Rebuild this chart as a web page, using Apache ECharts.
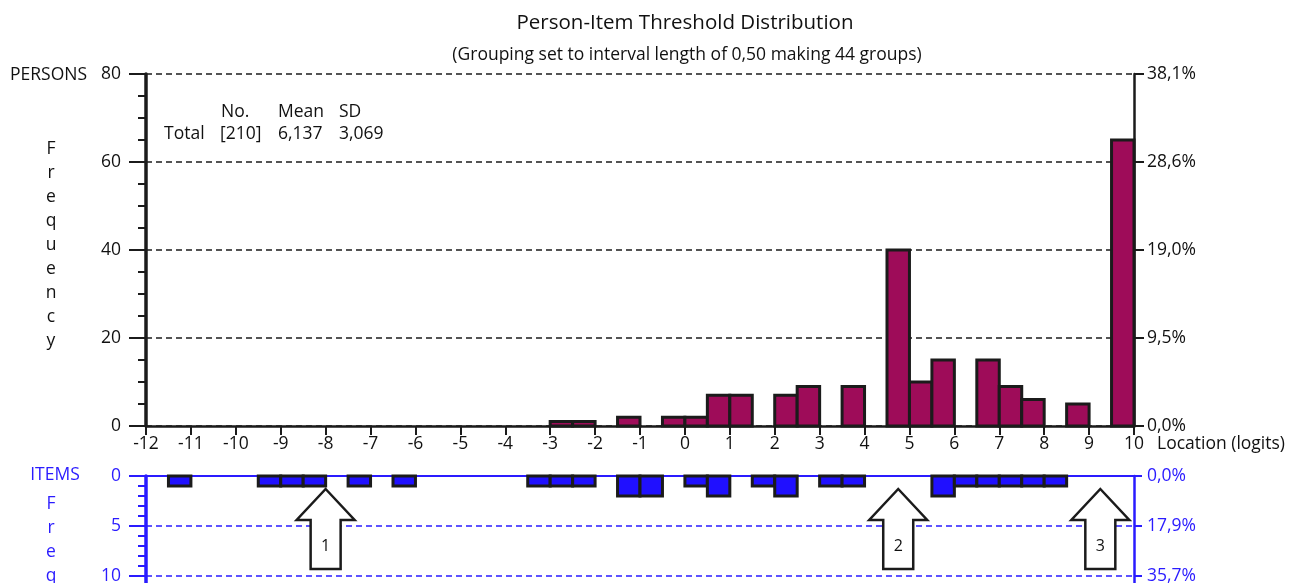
<!DOCTYPE html>
<html>
<head>
<meta charset="utf-8">
<script src="https://cdn.jsdelivr.net/npm/echarts@6/dist/echarts.min.js"></script>
<style>
  html, body { margin: 0; padding: 0; background: #ffffff; }
  #chart { width: 1296px; height: 583px; }
</style>
</head>
<body>
<div id="chart"></div>
<script>
// Location bins: 0,50 logit wide, from -12 to 10 (44 groups)
const binStart = -12;
const binWidth = 0.5;

// Persons per bin (bin k covers binStart + k*binWidth .. + binWidth)
const personCounts = [
  0, 0, 0, 0, 0, 0, 0, 0, 0, 0, 0, 0,   // -12 .. -6
  0, 0, 0, 0, 0, 0, 1, 1, 0, 2, 0, 2,   // -6 .. 0
  2, 7, 7, 0, 7, 9, 0, 9, 0, 40, 10, 15, // 0 .. 6
  0, 15, 9, 6, 0, 5, 0, 65              // 6 .. 10
];

// Item thresholds per bin
const itemCounts = [
  0, 1, 0, 0, 0, 1, 1, 1, 0, 1, 0, 1,   // -12 .. -6
  0, 0, 0, 0, 0, 1, 1, 1, 0, 2, 2, 0,   // -6 .. 0
  1, 2, 0, 1, 2, 0, 1, 1, 0, 0, 0, 2,   // 0 .. 6
  1, 1, 1, 1, 1, 0, 0, 0                // 6 .. 10
];

// Summary statistics of persons
const personTotal = 210;
const personMean = '6,137';
const personSD = '3,069';
const itemTotal = itemCounts.reduce((s, v) => s + v, 0);

// Up-pointing markers under the item panel
const arrowAt = [-8, 4.75, 9.25];
const arrowLabels = ['1', '2', '3'];

const FONT = '"Open Sans", "DejaVu Sans", sans-serif';
const ink = '#1b1b1b';
const plum = '#9e0c59';
const blue = '#2a1bff';
const barBlue = '#2010ff';
const labelSize = 17.5;

function pct(v, total) {
  return (v / total * 100).toFixed(1).replace('.', ',') + '%';
}

function binRenderer(fill) {
  return function (params, api) {
    const x0 = api.value(0);
    const v = api.value(1);
    if (!v) return null;
    const a = api.coord([x0, v]);
    const b = api.coord([x0 + binWidth, 0]);
    return {
      type: 'rect',
      shape: {
        x: a[0],
        y: Math.min(a[1], b[1]),
        width: b[0] - a[0],
        height: Math.abs(b[1] - a[1])
      },
      style: { fill: fill, stroke: ink, lineWidth: 3 }
    };
  };
}

function arrowRenderer(params, api) {
  const p = api.coord([api.value(0), 0]);
  const x = p[0], y = p[1];
  return {
    type: 'group',
    children: [
      {
        type: 'polygon',
        shape: {
          points: [
            [x, y + 13], [x + 29, y + 44], [x + 15, y + 44], [x + 15, y + 93],
            [x - 15, y + 93], [x - 15, y + 44], [x - 29, y + 44]
          ]
        },
        style: { fill: '#ffffff', stroke: ink, lineWidth: 2.5 }
      },
      {
        type: 'text',
        style: {
          text: arrowLabels[params.dataIndex],
          x: x, y: y + 70,
          align: 'center', verticalAlign: 'middle',
          textAlign: 'center', textVerticalAlign: 'middle',
          font: '16px ' + FONT, fill: '#111'
        }
      }
    ]
  };
}

const personData = personCounts.map((c, k) => [binStart + k * binWidth, c]);
const itemData = itemCounts.map((c, k) => [binStart + k * binWidth, c]);
const arrowData = arrowAt.map(x => [x, 0]);

function txt(text, x, y, size, color, align) {
  return {
    type: 'text',
    style: {
      text: text, x: x, y: y,
      align: align || 'left', verticalAlign: 'middle',
      textAlign: align || 'left', textVerticalAlign: 'middle',
      font: size + 'px ' + FONT, fill: color || '#111'
    }
  };
}

function column(text, x, y, color) {
  return {
    type: 'text',
    style: {
      text: text.split('').join('\n'), x: x, y: y, lineHeight: 24,
      align: 'center', textAlign: 'center',
      font: labelSize + 'px ' + FONT, fill: color
    }
  };
}

const option = {
  animation: false,
  backgroundColor: '#ffffff',
  grid: [
    { left: 146, top: 74, width: 988, height: 352, containLabel: false, outerBoundsMode: 'none' },
    { left: 146, top: 476, width: 988, height: 200, containLabel: false, outerBoundsMode: 'none' }
  ],
  xAxis: [
    {
      gridIndex: 0, type: 'value', min: -12, max: 10, interval: 1,
      axisLine: { onZero: false, lineStyle: { color: ink, width: 2.5 } },
      axisTick: { length: 9, lineStyle: { color: ink, width: 2 } },
      axisLabel: { color: '#111', fontSize: labelSize, fontFamily: FONT, margin: 9 },
      splitLine: { show: false }
    },
    {
      gridIndex: 1, type: 'value', min: -12, max: 10, interval: 1, position: 'top',
      axisLine: { onZero: false, lineStyle: { color: blue, width: 2 } },
      axisTick: { show: false },
      axisLabel: { show: false },
      splitLine: { show: false }
    }
  ],
  yAxis: [
    {
      gridIndex: 0, type: 'value', min: 0, max: 80, interval: 20, position: 'left',
      axisLine: { show: true, onZero: false, lineStyle: { color: ink, width: 3.5 } },
      axisTick: { show: true, length: 17, lineStyle: { color: ink, width: 2 } },
      minorTick: { show: true, splitNumber: 4, length: 8, lineStyle: { color: ink, width: 2 } },
      axisLabel: { color: '#111', fontSize: labelSize, fontFamily: FONT, margin: 25 },
      splitLine: { show: true, lineStyle: { color: ink, width: 1.5, type: [6, 4] } }
    },
    {
      gridIndex: 0, type: 'value', min: 0, max: 80, interval: 20, position: 'right',
      axisLine: { show: true, onZero: false, lineStyle: { color: ink, width: 2.5 } },
      axisTick: { show: true, length: 10, lineStyle: { color: ink, width: 2 } },
      axisLabel: {
        color: '#111', fontSize: labelSize, fontFamily: FONT, margin: 13,
        formatter: v => pct(v, personTotal)
      },
      splitLine: { show: false }
    },
    {
      gridIndex: 1, type: 'value', min: 0, max: 20, interval: 5, inverse: true, position: 'left',
      axisLine: { show: true, onZero: false, lineStyle: { color: blue, width: 3.5 } },
      axisTick: { show: true, length: 17, lineStyle: { color: blue, width: 2 } },
      minorTick: { show: true, splitNumber: 5, length: 8, lineStyle: { color: blue, width: 2 } },
      axisLabel: { color: blue, fontSize: labelSize, fontFamily: FONT, margin: 25 },
      splitLine: { show: true, lineStyle: { color: blue, width: 1.5, type: [6, 4] } }
    },
    {
      gridIndex: 1, type: 'value', min: 0, max: 20, interval: 5, inverse: true, position: 'right',
      axisLine: { show: true, onZero: false, lineStyle: { color: blue, width: 2.5 } },
      axisTick: { show: true, length: 8, lineStyle: { color: blue, width: 2 } },
      axisLabel: {
        color: blue, fontSize: labelSize, fontFamily: FONT, margin: 13,
        formatter: v => pct(v, itemTotal)
      },
      splitLine: { show: false }
    }
  ],
  series: [
    {
      name: 'Persons', type: 'custom', xAxisIndex: 0, yAxisIndex: 0,
      renderItem: binRenderer(plum), data: personData, encode: { x: 0, y: 1 }, z: 3
    },
    {
      name: 'Items', type: 'custom', xAxisIndex: 1, yAxisIndex: 2,
      renderItem: binRenderer(barBlue), data: itemData, encode: { x: 0, y: 1 }, z: 3
    },
    {
      name: 'Markers', type: 'custom', xAxisIndex: 1, yAxisIndex: 2,
      renderItem: arrowRenderer, data: arrowData, encode: { x: 0, y: 1 }, z: 4
    }
  ],
  graphic: [
    txt('Person-Item Threshold Distribution', 685, 23, 20.5, '#111', 'center'),
    txt('(Grouping set to interval length of 0,50 making 44 groups)', 687, 55, 17.5, '#111', 'center'),
    txt('PERSONS', 10, 75, labelSize, '#111'),
    txt('No.', 221, 112, labelSize),
    txt('Mean', 278, 112, labelSize),
    txt('SD', 339, 112, labelSize),
    txt('Total', 164, 134, labelSize),
    txt('[' + personTotal + ']', 220, 134, labelSize),
    txt(personMean, 278, 134, labelSize),
    txt(personSD, 339, 134, labelSize),
    column('Frequency', 51, 137, '#111'),
    txt('Location (logits)', 1157, 444, labelSize, '#111'),
    txt('ITEMS', 55, 475, labelSize, blue, 'center'),
    column('Frequency', 51, 492, blue)
  ]
};

const chart = echarts.init(document.getElementById('chart'), null, { renderer: 'canvas' });
chart.setOption(option);
</script>
</body>
</html>
